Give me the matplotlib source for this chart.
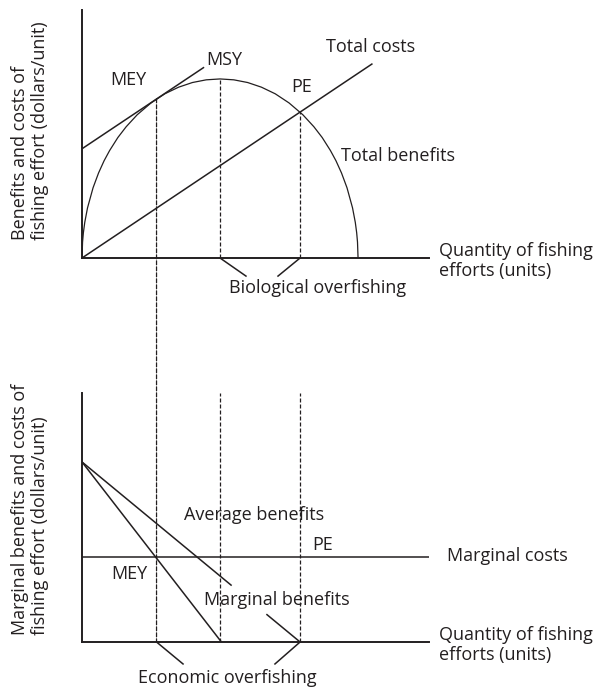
import matplotlib
matplotlib.use("Agg")
import matplotlib.pyplot as plt
from matplotlib.patches import ConnectionPatch

plt.rcParams['font.family'] = ['Open Sans', 'DejaVu Sans']

INK = '#231f20'

# ---------------- data ----------------
# effort (arbitrary units) and total benefits (dollars) along the yield curve
effort_tb = [0, 0.2, 0.5, 1, 2, 4, 6, 8, 10, 13, 16, 20, 25, 30, 35, 40, 45, 50,
             55, 60, 65, 70, 75, 80, 84, 87, 90, 92, 94, 96, 98, 99, 99.5, 99.8, 100]
total_benefits = [0, 8.9, 14.1, 19.9, 28.0, 39.2, 47.5, 54.3, 60.0, 67.3, 73.3, 80.0, 86.6,
                  91.7, 95.4, 98.0, 99.5, 100, 99.5, 98.0, 95.4, 91.7, 86.6, 80.0, 73.3,
                  67.3, 60.0, 54.3, 47.5, 39.2, 28.0, 19.9, 14.1, 8.9, 0]

effort_tc = [0, 105]
total_costs = [0, 108.3]

effort_tangent = [0, 44]
tangent_values = [61.0, 106.3]

MEY, MSY, PE = 27, 50, 79
TB_MEY, TB_MSY, TB_PE = 88.9, 100, 81.5

# bottom panel
effort_mb = [0, 50.5]
marginal_benefits = [100, 0]
effort_ab_a = [0, 54]
average_benefits_a = [100, 31.6]
effort_ab_b = [67, 79]
average_benefits_b = [15.2, 0]
marginal_cost = 47

XMAX = 125.7
YMAX_TOP = 138.5
YMAX_BOT = 138.3

W, H = 608, 689
fig = plt.figure(figsize=(W / 100, H / 100), dpi=100)

def rect(l, b, r, t):
    return [l / W, 1 - b / H, (r - l) / W, (b - t) / H]

ax1 = fig.add_axes(rect(82, 258, 429, 10))
ax2 = fig.add_axes(rect(82, 642, 429, 393))

for ax, ymax in ((ax1, YMAX_TOP), (ax2, YMAX_BOT)):
    ax.set_xlim(0, XMAX)
    ax.set_ylim(0, ymax)
    ax.set_xticks([])
    ax.set_yticks([])
    for s in ('top', 'right'):
        ax.spines[s].set_visible(False)
    for s in ('left', 'bottom'):
        ax.spines[s].set_linewidth(1.4)
        ax.spines[s].set_color(INK)
    ax.patch.set_alpha(0)

FS = 13
LS = 1.12
dash = (0, (3.2, 1.6))
lw_line = 1.1
lw_dash = 0.9

# ---------------- top panel ----------------
ax1.plot(effort_tb, total_benefits, color=INK, lw=0.9, solid_joinstyle='round')
ax1.plot(effort_tc, total_costs, color=INK, lw=lw_line)
ax1.plot(effort_tangent, tangent_values, color=INK, lw=lw_line)
ax1.plot([MSY, MSY], [0, TB_MSY], color=INK, lw=lw_dash, linestyle=dash)
ax1.plot([PE, PE], [0, TB_PE], color=INK, lw=lw_dash, linestyle=dash)

# biological overfishing bracket
ax1.plot([MSY, 59.4], [0, -10.1], color=INK, lw=lw_line, clip_on=False)
ax1.plot([71.0, PE], [-10.1, 0], color=INK, lw=lw_line, clip_on=False)

ax1.text(16.7, 99.4, 'MEY', fontsize=FS, color=INK, ha='center', va='center')
ax1.text(51.4, 110.6, 'MSY', fontsize=FS, color=INK, ha='center', va='center')
ax1.text(104.7, 117.9, 'Total costs', fontsize=FS, color=INK, ha='center', va='center')
ax1.text(79.7, 95.5, 'PE', fontsize=FS, color=INK, ha='center', va='center')
ax1.text(114.5, 57, 'Total benefits', fontsize=FS, color=INK, ha='center', va='center')
ax1.text(129.3, -1.7, 'Quantity of fishing\nefforts (units)', fontsize=FS, color=INK,
         ha='left', va='center', linespacing=LS, clip_on=False)
ax1.text(85.5, -16.8, 'Biological overfishing', fontsize=FS, color=INK,
         ha='center', va='center', clip_on=False)

# ---------------- bottom panel ----------------
ax2.plot(effort_mb, marginal_benefits, color=INK, lw=lw_line)
ax2.plot(effort_ab_a, average_benefits_a, color=INK, lw=lw_line)
ax2.plot(effort_ab_b, average_benefits_b, color=INK, lw=lw_line)
ax2.plot([0, XMAX], [marginal_cost, marginal_cost], color=INK, lw=lw_line)
ax2.plot([MSY, MSY], [0, YMAX_BOT], color=INK, lw=lw_dash, linestyle=dash)
ax2.plot([PE, PE], [0, YMAX_BOT], color=INK, lw=lw_dash, linestyle=dash)

# economic overfishing bracket
ax2.plot([MEY, 36.6], [0, -12.2], color=INK, lw=lw_line, clip_on=False)
ax2.plot([69.9, PE], [-12.2, 0], color=INK, lw=lw_line, clip_on=False)

ax2.text(62.3, 70.6, 'Average benefits', fontsize=FS, color=INK, ha='center', va='center')
ax2.text(87, 53.9, 'PE', fontsize=FS, color=INK, ha='center', va='center')
ax2.text(132.2, 47.8, 'Marginal costs', fontsize=FS, color=INK, ha='left', va='center',
         clip_on=False)
ax2.text(17, 37.8, 'MEY', fontsize=FS, color=INK, ha='center', va='center')
ax2.text(70.7, 23.3, 'Marginal benefits', fontsize=FS, color=INK, ha='center', va='center')
ax2.text(129.3, -1.7, 'Quantity of fishing\nefforts (units)', fontsize=FS, color=INK,
         ha='left', va='center', linespacing=LS, clip_on=False)
ax2.text(52.5, -20, 'Economic overfishing', fontsize=FS, color=INK,
         ha='center', va='center', clip_on=False)

# MEY dashed line running through both panels
con = ConnectionPatch(xyA=(MEY, TB_MEY), coordsA=ax1.transData,
                      xyB=(MEY, 0), coordsB=ax2.transData,
                      color=INK, lw=lw_dash, linestyle=dash)
fig.add_artist(con)

# y-axis labels
fig.text(30 / W, 1 - 240 / H, 'Benefits and costs of\nfishing effort (dollars/unit)',
         fontsize=FS, color=INK, rotation=90, ha='center', va='bottom',
         multialignment='left', linespacing=LS)
fig.text(30 / W, 1 - 635 / H, 'Marginal benefits and costs of\nfishing effort (dollars/unit)',
         fontsize=FS, color=INK, rotation=90, ha='center', va='bottom',
         multialignment='left', linespacing=LS)

fig.savefig('out.png', dpi=100, facecolor='white')
